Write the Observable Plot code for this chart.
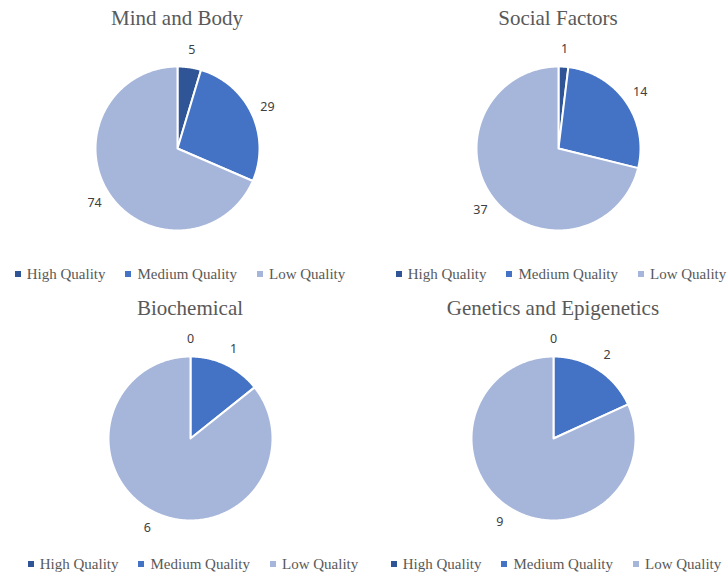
<!DOCTYPE html>
<html>
<head>
<meta charset="utf-8">
<script src="https://cdn.jsdelivr.net/npm/d3@7"></script>
<script src="https://cdn.jsdelivr.net/npm/@observablehq/plot@0.6"></script>
<style>
  html, body { margin: 0; padding: 0; background: #fff; }
  #root { position: relative; width: 727px; height: 573px; overflow: hidden; }
  .panel { position: absolute; }
  .title { font-family: "Liberation Serif", "Times New Roman", serif; font-size: 21px; color: #595959;
           height: 24px; line-height: 24px; margin-top: 6px; text-align: center; white-space: nowrap;
           display: flex; justify-content: center; }
  .plot { margin-top: 10px; display: block; }
  .legend { display: flex; justify-content: center; white-space: nowrap; margin-top: 8px; height: 20px; line-height: 20px;
            font-family: "Liberation Serif", "Times New Roman", serif; font-size: 15px; color: #595959; }
  .item { display: flex; align-items: center; margin: 0 10px; }
  .sw { width: 6px; height: 6px; margin-right: 6px; display: inline-block; }
</style>
</head>
<body>
<div id="root"></div>
<script>
const panels = ["Mind and Body", "Social Factors", "Biochemical", "Genetics and Epigenetics"];
const qualities = ["High Quality", "Medium Quality", "Low Quality"];
const high = [5, 1, 0, 0];
const medium = [29, 14, 1, 2];
const low = [74, 37, 6, 9];
const colors = ["#2f5597", "#4472c4", "#a6b5da"];

// layout (pixels)
const layout = [
  {cx: 177, top: 0},
  {cx: 558, top: 0},
  {cx: 190, top: 290},
  {cx: 553, top: 290}
];
const W = 330, H = 216, R = 82;

const root = document.getElementById("root");

panels.forEach((name, i) => {
  const values = [high[i], medium[i], low[i]];
  const rows = qualities.map((q, j) => ({quality: q, value: values[j]}));
  const arcs = d3.pie().sort(null).value(d => d.value)(rows);

  // slice polygons in unit-radius coordinates
  const pts = [];
  arcs.forEach(a => {
    if (a.endAngle - a.startAngle <= 0) return;
    const q = a.data.quality;
    pts.push({quality: q, x: 0, y: 0});
    const n = Math.max(2, Math.ceil((a.endAngle - a.startAngle) / 0.01));
    for (let k = 0; k <= n; k++) {
      const t = a.startAngle + (a.endAngle - a.startAngle) * k / n;
      pts.push({quality: q, x: Math.sin(t), y: Math.cos(t)});
    }
  });
  const labels = arcs.map(a => {
    const m = (a.startAngle + a.endAngle) / 2;
    const r = 1.21;
    return {text: String(a.data.value), x: r * Math.sin(m), y: r * Math.cos(m)};
  });

  const chart = Plot.plot({
    width: W, height: H, margin: 0,
    x: {domain: [-W / 2 / R, W / 2 / R], axis: null},
    y: {domain: [-H / 2 / R, H / 2 / R], axis: null},
    color: {domain: qualities, range: colors},
    style: {background: "transparent", overflow: "visible"},
    marks: [
      Plot.line(pts, {x: "x", y: "y", z: "quality", fill: "quality", stroke: "white", strokeWidth: 2, curve: "linear-closed"}),
      Plot.text(labels, {x: "x", y: "y", text: "text", fill: "#404040", fontSize: 12.5,
                         fontFamily: "'Noto Sans', 'Liberation Sans', sans-serif", textAnchor: "middle"})
    ]
  });
  chart.classList.add("plot");

  const p = document.createElement("div");
  p.className = "panel";
  p.style.left = (layout[i].cx - W / 2) + "px";
  p.style.top = layout[i].top + "px";
  p.style.width = W + "px";

  const t = document.createElement("div");
  t.className = "title";
  t.textContent = name;
  p.appendChild(t);
  p.appendChild(chart);

  const lg = document.createElement("div");
  lg.className = "legend";
  lg.style.marginLeft = "6px";
  qualities.forEach((q, j) => {
    const it = document.createElement("span");
    it.className = "item";
    const sw = document.createElement("span");
    sw.className = "sw";
    sw.style.background = colors[j];
    it.appendChild(sw);
    it.appendChild(document.createTextNode(q));
    lg.appendChild(it);
  });
  p.appendChild(lg);
  root.appendChild(p);
});
</script>
</body>
</html>
